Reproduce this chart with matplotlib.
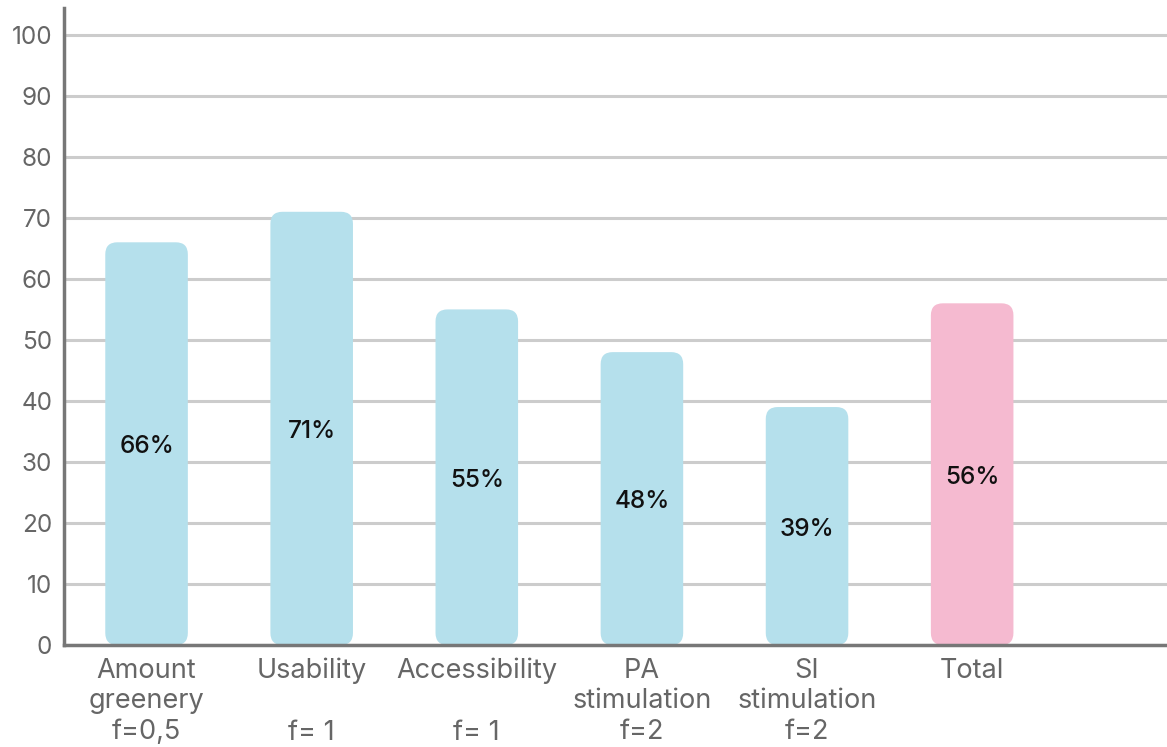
import matplotlib
matplotlib.use("Agg")
import matplotlib.pyplot as plt
from matplotlib.patches import FancyBboxPatch

plt.rcParams["font.family"] = ["Inter", "DejaVu Sans"]

CATEGORIES = ["Amount\ngreenery\nf=0,5", "Usability\n\nf= 1",
              "Accessibility\n\nf= 1", "PA\nstimulation\nf=2",
              "SI\nstimulation\nf=2", "Total"]
VALUES = [66, 71, 55, 48, 39, 56]
LABELS = ["66%", "71%", "55%", "48%", "39%", "56%"]
BLUE = "#b5e0ec"
PINK = "#f5bad0"
COLORS = [BLUE] * 5 + [PINK]

W, H = 1167, 747
fig = plt.figure(figsize=(W / 100, H / 100), dpi=100)
ax = fig.add_axes([64 / W, 102 / H, (W - 64) / W, (645 - 8) / H])

ax.set_xlim(-0.5, 6.18)
ax.set_ylim(0, 104.4)
ax.set_yticks(range(0, 101, 10))
ax.yaxis.grid(True, color="#cccccc", lw=2.2)
ax.set_axisbelow(True)

x = list(range(len(VALUES)))
bars = ax.bar(x, VALUES, width=0.5, color=COLORS)

# swap the square bars for rounded ones; aspect keeps the corners circular
bbox = ax.get_window_extent()
px_x = bbox.width / (6.18 + 0.5)
px_y = bbox.height / 104.4
r_px = 12
for b in bars:
    b.set_visible(False)
    p = FancyBboxPatch((b.get_x(), b.get_y()), b.get_width(), b.get_height(),
                       boxstyle=f"round,pad=0,rounding_size={r_px / px_x}",
                       mutation_aspect=px_x / px_y,
                       fc=b.get_facecolor(), ec="none", zorder=2)
    ax.add_patch(p)

for xi, v, lab in zip(x, VALUES, LABELS):
    ax.text(xi, v / 2 - 0.5, lab, ha="center", va="center", fontsize=17.5,
            fontweight="medium", color="#111111", zorder=3)

for s in ["top", "right"]:
    ax.spines[s].set_visible(False)
for s in ["left", "bottom"]:
    ax.spines[s].set_color("#777777")
    ax.spines[s].set_linewidth(2.5)
    ax.spines[s].set_zorder(4)

ax.set_xticks(x)
ax.set_xticklabels(CATEGORIES, fontsize=19.5, color="#666666", va="top",
                   linespacing=1.24)
ax.tick_params(axis="both", length=0, labelcolor="#666666")
ax.tick_params(axis="y", labelsize=17.5, pad=8.5)
ax.tick_params(axis="x", pad=9)

fig.savefig("out.png", dpi=100)
